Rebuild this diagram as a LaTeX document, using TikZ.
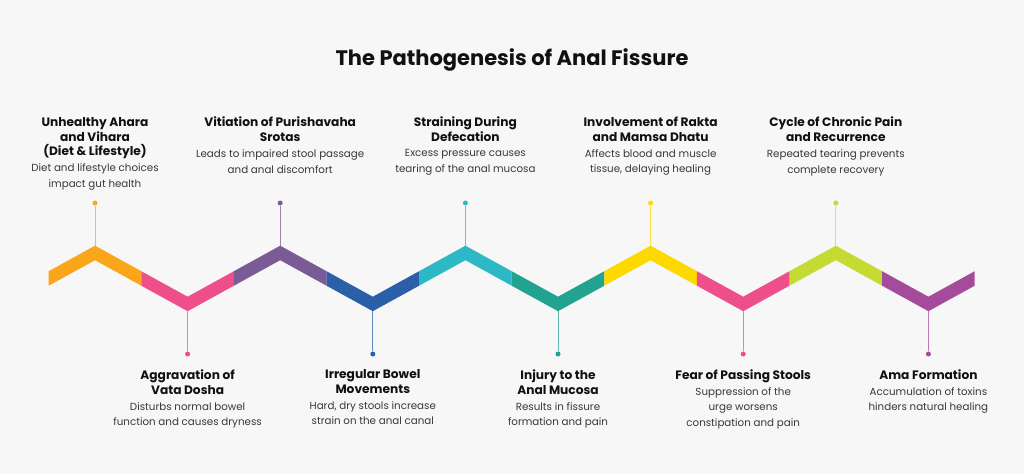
\documentclass[tikz,border=0pt]{standalone}
\usepackage{fontspec}
\setmainfont{Poppins}
\usetikzlibrary{positioning}

\definecolor{bgcol}{HTML}{F7F7F7}
\definecolor{cOrange}{HTML}{F9A61A}
\definecolor{cPink}{HTML}{EE4F8B}
\definecolor{cPurple}{HTML}{7A5B96}
\definecolor{cBlue}{HTML}{2B5FA8}
\definecolor{cCyan}{HTML}{2CB9C5}
\definecolor{cTeal}{HTML}{22A38F}
\definecolor{cYellow}{HTML}{FDD900}
\definecolor{cLime}{HTML}{C6DA34}
\definecolor{cMagenta}{HTML}{A54B9C}
\definecolor{txt}{HTML}{111111}
\definecolor{desctxt}{HTML}{383838}

\tikzset{
  heading/.style={font=\fontsize{21}{25}\selectfont\bfseries, text=txt, inner sep=0pt},
  head/.style={font=\fontsize{12.2}{14.8}\selectfont\bfseries, text=txt, align=center, inner sep=0pt, text depth=3.5pt},
  desc/.style={font=\fontsize{10.3}{15.6}\selectfont, text=desctxt, align=center, inner sep=0pt},
  dot/.style={circle, fill=#1, inner sep=0pt, minimum size=5pt},
  pinline/.style={draw=#1!75!white, line width=1pt},
}

\begin{document}
\begin{tikzpicture}[x=1pt,y=-1pt]
  % background
  \fill[bgcol] (0,0) rectangle (1024,474);

  \node[heading] (title) at (512,59.5) {The Pathogenesis of Anal Fissure};

  % zigzag band
  \fill[cOrange]  (48.7,271.2) -- ++(46.3,-25.5) -- ++(46.3,25.5) -- ++(0,14.5) -- ++(-46.3,-25.5) -- ++(-46.3,25.5) -- cycle;
  \fill[cPink]    (141.3,271.2) -- ++(46.3,25.5) -- ++(46.3,-25.5) -- ++(0,14.5) -- ++(-46.3,25.5) -- ++(-46.3,-25.5) -- cycle;
  \fill[cPurple]  (233.9,271.2) -- ++(46.3,-25.5) -- ++(46.3,25.5) -- ++(0,14.5) -- ++(-46.3,-25.5) -- ++(-46.3,25.5) -- cycle;
  \fill[cBlue]    (326.5,271.2) -- ++(46.3,25.5) -- ++(46.3,-25.5) -- ++(0,14.5) -- ++(-46.3,25.5) -- ++(-46.3,-25.5) -- cycle;
  \fill[cCyan]    (419.1,271.2) -- ++(46.3,-25.5) -- ++(46.3,25.5) -- ++(0,14.5) -- ++(-46.3,-25.5) -- ++(-46.3,25.5) -- cycle;
  \fill[cTeal]    (511.7,271.2) -- ++(46.3,25.5) -- ++(46.3,-25.5) -- ++(0,14.5) -- ++(-46.3,25.5) -- ++(-46.3,-25.5) -- cycle;
  \fill[cYellow]  (604.3,271.2) -- ++(46.3,-25.5) -- ++(46.3,25.5) -- ++(0,14.5) -- ++(-46.3,-25.5) -- ++(-46.3,25.5) -- cycle;
  \fill[cPink]    (696.9,271.2) -- ++(46.3,25.5) -- ++(46.3,-25.5) -- ++(0,14.5) -- ++(-46.3,25.5) -- ++(-46.3,-25.5) -- cycle;
  \fill[cLime]    (789.5,271.2) -- ++(46.3,-25.5) -- ++(46.3,25.5) -- ++(0,14.5) -- ++(-46.3,-25.5) -- ++(-46.3,25.5) -- cycle;
  \fill[cMagenta] (882.1,271.2) -- ++(46.3,25.5) -- ++(46.3,-25.5) -- ++(0,14.5) -- ++(-46.3,25.5) -- ++(-46.3,-25.5) -- cycle;

  % band corners
  \coordinate (p1) at (95,245.7);
  \coordinate (v1) at (187.6,311.2);
  \coordinate (p2) at (280.2,245.7);
  \coordinate (v2) at (372.8,311.2);
  \coordinate (p3) at (465.4,245.7);
  \coordinate (v3) at (558,311.2);
  \coordinate (p4) at (650.6,245.7);
  \coordinate (v4) at (743.2,311.2);
  \coordinate (p5) at (835.8,245.7);
  \coordinate (v5) at (928.4,311.2);

  % pins
  \node[dot=cOrange]  (dp1) at (95,203) {};
  \node[dot=cPink]    (dv1) at (187.6,354) {};
  \node[dot=cPurple]  (dp2) at (280.2,203) {};
  \node[dot=cBlue]    (dv2) at (372.8,354) {};
  \node[dot=cCyan]    (dp3) at (465.4,203) {};
  \node[dot=cTeal]    (dv3) at (558,354) {};
  \node[dot=cYellow]  (dp4) at (650.6,203) {};
  \node[dot=cPink]    (dv4) at (743.2,354) {};
  \node[dot=cLime]    (dp5) at (835.8,203) {};
  \node[dot=cMagenta] (dv5) at (928.4,354) {};
  \draw[pinline=cOrange]  (dp1) -- (p1);
  \draw[pinline=cPink]    (dv1) -- (v1);
  \draw[pinline=cPurple]  (dp2) -- (p2);
  \draw[pinline=cBlue]    (dv2) -- (v2);
  \draw[pinline=cCyan]    (dp3) -- (p3);
  \draw[pinline=cTeal]    (dv3) -- (v3);
  \draw[pinline=cYellow]  (dp4) -- (p4);
  \draw[pinline=cPink]    (dv4) -- (v4);
  \draw[pinline=cLime]    (dp5) -- (p5);
  \draw[pinline=cMagenta] (dv5) -- (v5);

  % upper labels
  \node[head, anchor=north] (h1) at (95,117) {Unhealthy Ahara\\and Vihara\\(Diet \& Lifestyle)};
  \node[desc, below=4pt of h1] (d1) {Diet and lifestyle choices\\impact gut health};
  \node[head, anchor=north] (h2) at (280.2,117) {Vitiation of Purishavaha\\Srotas};
  \node[desc, below=4pt of h2] (d2) {Leads to impaired stool passage\\and anal discomfort};
  \node[head, anchor=north] (h3) at (465.4,117) {Straining During\\Defecation};
  \node[desc, below=4pt of h3] (d3) {Excess pressure causes\\tearing of the anal mucosa};
  \node[head, anchor=north] (h4) at (650.6,117) {Involvement of Rakta\\and Mamsa Dhatu};
  \node[desc, below=4pt of h4] (d4) {Affects blood and muscle\\tissue, delaying healing};
  \node[head, anchor=north] (h5) at (835.8,117) {Cycle of Chronic Pain\\and Recurrence};
  \node[desc, below=4pt of h5] (d5) {Repeated tearing prevents\\complete recovery};

  % lower labels
  \node[head, anchor=north] (h6) at (187.6,369.5) {Aggravation of\\Vata Dosha};
  \node[desc, below=4pt of h6] (d6) {Disturbs normal bowel\\function and causes dryness};
  \node[head, anchor=north] (h7) at (372.8,369.5) {Irregular Bowel\\Movements};
  \node[desc, below=4pt of h7] (d7) {Hard, dry stools increase\\strain on the anal canal};
  \node[head, anchor=north] (h8) at (558,369.5) {Injury to the\\Anal Mucosa};
  \node[desc, below=4pt of h8] (d8) {Results in fissure\\formation and pain};
  \node[head, anchor=north] (h9) at (743.2,369.5) {Fear of Passing Stools};
  \node[desc, below=4pt of h9] (d9) {Suppression of the\\urge worsens\\constipation and pain};
  \node[head, anchor=north] (h10) at (928.4,369.5) {Ama Formation};
  \node[desc, below=4pt of h10] (d10) {Accumulation of toxins\\hinders natural healing};
\end{tikzpicture}
\end{document}
